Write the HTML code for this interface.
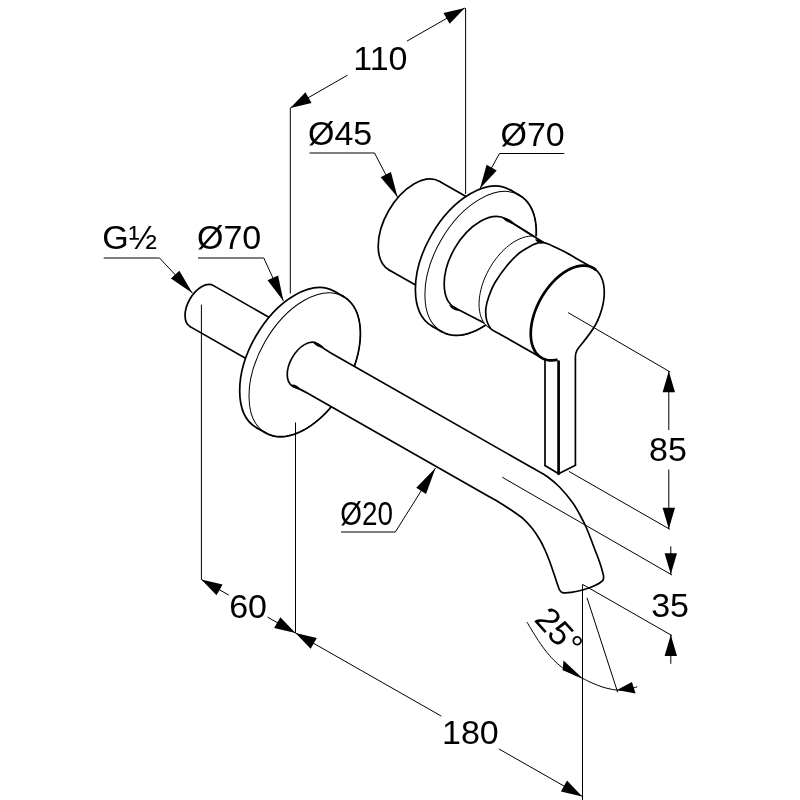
<!DOCTYPE html>
<html lang="en"><head><meta charset="utf-8"><title>Wall-mounted basin mixer – dimension drawing</title>
<style>html,body{margin:0;padding:0;background:#fff;overflow:hidden}svg{display:block;will-change:transform;filter:grayscale(1)}</style></head>
<body>
<svg width="800" height="800" viewBox="0 0 800 800" font-family="'Liberation Sans', Arial, sans-serif" font-size="34" fill="#000">
<ellipse cx="414.4" cy="225.73" rx="51" ry="29.83" transform="rotate(-60.32 414.4 225.73)" fill="#fff" stroke="#000" stroke-width="1.7"/>
<polygon points="439.66,181.43 496.36,213.74 445.84,302.36 389.14,270.04" fill="#fff" stroke="none" stroke-width="0" stroke-linejoin="round"/>
<line x1="439.66" y1="181.43" x2="496.36" y2="213.74" stroke="#000" stroke-width="1.7" stroke-linecap="round"/>
<line x1="389.14" y1="270.04" x2="445.84" y2="302.36" stroke="#000" stroke-width="1.7" stroke-linecap="round"/>
<ellipse cx="471.1" cy="258.05" rx="78.5" ry="45.92" transform="rotate(-60.32 471.1 258.05)" fill="#fff" stroke="#000" stroke-width="1.7"/>
<polygon points="509.97,189.85 519.47,195.27 441.73,331.67 432.23,326.25" fill="#fff" stroke="none" stroke-width="0" stroke-linejoin="round"/>
<ellipse cx="480.6" cy="263.47" rx="78.5" ry="45.92" transform="rotate(-60.32 480.6 263.47)" fill="#fff" stroke="#000" stroke-width="1"/>
<polyline points="517.43,194.22 520.17,195.68 522.72,197.45 525.09,199.52 527.25,201.88 529.2,204.52 530.92,207.43 532.42,210.6 533.68,214.01 534.7,217.64 535.47,221.49 535.99,225.52 536.26,229.73 536.28,234.09 536.04,238.58 535.55,243.19 534.81,247.89 533.82,252.66 532.59,257.48 531.12,262.33 529.42,267.18 527.5,272.02 525.37,276.82 523.03,281.55 520.5,286.21 517.78,290.76 514.9,295.18 511.86,299.47 508.68,303.58 505.37,307.52 501.94,311.25 498.42,314.77 494.82,318.05 491.15,321.08 487.44,323.85 483.69,326.35 479.93,328.55 476.17,330.47 472.44,332.07 468.74,333.37 465.09,334.34 461.52,334.99 458.03,335.32 454.64,335.32 451.38,334.99 448.24,334.33 445.26,333.35 442.43,332.05 439.78,330.44" fill="none" stroke="#000" stroke-width="1.7" stroke-linecap="round" stroke-linejoin="round"/>
<line x1="509.97" y1="189.85" x2="519.47" y2="195.27" stroke="#000" stroke-width="1.7" stroke-linecap="round"/>
<line x1="432.23" y1="326.25" x2="441.73" y2="331.67" stroke="#000" stroke-width="1.7" stroke-linecap="round"/>
<ellipse cx="480.6" cy="263.47" rx="51.3" ry="30.01" transform="rotate(-60.32 480.6 263.47)" fill="#fff" stroke="#000" stroke-width="1.7"/>
<polygon points="506,218.9 547.56,245.01 498.84,330.49 455.2,308.04" fill="#fff" stroke="none" stroke-width="0" stroke-linejoin="round"/>
<line x1="506" y1="218.9" x2="547.56" y2="245.01" stroke="#000" stroke-width="1.7" stroke-linecap="round"/>
<line x1="455.2" y1="308.04" x2="498.84" y2="330.49" stroke="#000" stroke-width="1.7" stroke-linecap="round"/>
<ellipse cx="515.8" cy="283.53" rx="51.8" ry="30.3" transform="rotate(-60.32 515.8 283.53)" fill="#fff" stroke="none" stroke-width="0"/>
<polyline points="532.92,236.12 530.87,236.11 528.77,236.28 526.61,236.64 524.42,237.17 522.19,237.89 519.93,238.77 517.67,239.83 515.39,241.06 513.11,242.45 510.85,244 508.6,245.7 506.39,247.54 504.2,249.52 502.07,251.64 499.98,253.87 497.96,256.22 496,258.67 494.12,261.22 492.33,263.86 490.62,266.57 489.01,269.34 487.51,272.17 486.11,275.05 484.82,277.95 483.66,280.88 482.61,283.82 481.7,286.75 480.92,289.68 480.27,292.58 479.75,295.44 479.38,298.26 479.14,301.03 479.05,303.72 479.09,306.34 479.28,308.87 479.6,311.31 480.07,313.64 480.67,315.85 481.41,317.94 482.28,319.89 483.28,321.71 484.4,323.38 485.64,324.9 487,326.25 488.47,327.45 490.05,328.47 491.72,329.33 493.48,330.01" fill="none" stroke="#000" stroke-width="1" stroke-linecap="butt" stroke-linejoin="round"/>
<line x1="506" y1="218.9" x2="548" y2="245.28" stroke="#000" stroke-width="1.7" stroke-linecap="round"/>
<path d="M593.15,268 L575,257.65 C573.5,256.8 569.17,254.2 566,252.52 C562.83,250.85 558.83,248.97 556,247.6 C553.17,246.23 551.04,245.13 549,244.3 C546.96,243.47 545.58,242.82 543.75,242.6 C541.92,242.38 539.88,242.6 538,243 C536.12,243.4 535.5,243.42 532.5,245 C529.5,246.58 524.17,249.17 520,252.5 C515.83,255.83 511.67,260 507.5,265 C503.33,270 498.08,277.33 495,282.5 C491.92,287.67 490.52,291.75 489,296 C487.48,300.25 486.37,304.33 485.9,308 C485.43,311.67 485.82,315.25 486.2,318 C486.58,320.75 487.32,322.62 488.2,324.5 C489.08,326.38 489.53,327.7 491.5,329.3 C493.47,330.91 498.58,333.34 500,334.15 L541.85,358 Z" fill="#fff" stroke="none" stroke-width="0" stroke-linecap="round" stroke-linejoin="round"/>
<path d="M593.15,268 L575,257.65 C573.5,256.8 569.17,254.2 566,252.52 C562.83,250.85 558.83,248.97 556,247.6 C553.17,246.23 551.04,245.13 549,244.3 C546.96,243.47 545.58,242.82 543.75,242.6 C541.92,242.38 539.88,242.6 538,243 C536.12,243.4 535.5,243.42 532.5,245 C529.5,246.58 524.17,249.17 520,252.5 C515.83,255.83 511.67,260 507.5,265 C503.33,270 498.08,277.33 495,282.5 C491.92,287.67 490.52,291.75 489,296 C487.48,300.25 486.37,304.33 485.9,308 C485.43,311.67 485.82,315.25 486.2,318 C486.58,320.75 487.32,322.62 488.2,324.5 C489.08,326.38 489.53,327.7 491.5,329.3 C493.47,330.91 498.58,333.34 500,334.15 L541.85,358" fill="none" stroke="#000" stroke-width="1.7" stroke-linecap="round" stroke-linejoin="round"/>
<ellipse cx="567.5" cy="313" rx="51.8" ry="30.3" transform="rotate(-60.32 567.5 313)" fill="#fff" stroke="none" stroke-width="0"/>
<polygon points="545,356 545,465.5 558.6,473.8 575.4,465.2 575.4,352 590,332" fill="#fff" stroke="none" stroke-width="0" stroke-linejoin="round"/>
<polyline points="596.12,270.12 594.23,268.66 592.17,267.48 589.96,266.57 587.62,265.95 585.15,265.62 582.57,265.58 579.9,265.83 577.15,266.37 574.35,267.19 571.5,268.3 568.63,269.68 565.75,271.33 562.88,273.23 560.04,275.37 557.25,277.75 554.52,280.34 551.87,283.13 549.31,286.11 546.87,289.25 544.55,292.54 542.38,295.95 540.35,299.47 538.5,303.07 536.82,306.73 535.33,310.42 534.04,314.14 532.95,317.85 532.07,321.52 531.42,325.15 530.98,328.7 530.77,332.16 530.78,335.49 531.02,338.69 531.48,341.73 532.16,344.6 533.06,347.27 534.17,349.73 535.48,351.97 536.99,353.97 538.69,355.71 540.57,357.2 542.61,358.41 544.8,359.35 547.13,360 549.59,360.36 552.15,360.43 554.82,360.21 557.55,359.7" fill="none" stroke="#000" stroke-width="2.7" stroke-linecap="butt" stroke-linejoin="round"/>
<polyline points="593.15,268 593.91,268.45 594.64,268.95 595.35,269.48 596.04,270.05 596.7,270.66 597.34,271.3 597.96,271.97 598.54,272.69 599.1,273.43 599.64,274.21 600.14,275.03 600.62,275.87 601.07,276.75 601.5,277.66 601.89,278.59 602.25,279.56 602.59,280.56 602.89,281.58 603.17,282.63 603.41,283.7 603.62,284.81 603.81,285.93 603.96,287.08 604.08,288.25 604.17,289.44 604.23,290.65 604.25,291.88 604.25,293.13 604.22,294.39 604.15,295.67 604.05,296.97 603.92,298.28 603.76,299.6 603.57,300.93 603.35,302.27 603.1,303.62 602.82,304.98 602.51,306.35 602.16,307.72 601.79,309.1 601.39,310.48 600.96,311.86 600.5,313.25 600.02,314.63 599.51,316.01 598.96,317.39 598.4,318.77 597.8,320.14" fill="none" stroke="#000" stroke-width="1.7" stroke-linecap="round" stroke-linejoin="round"/>
<path d="M597.8,320.14 C594.8,328.14 588,336 582.5,343 C578,348.5 575.4,351 575.4,357 L575.4,465.2" fill="none" stroke="#000" stroke-width="1.7" stroke-linecap="round" stroke-linejoin="round"/>
<line x1="545" y1="360.5" x2="545" y2="465.5" stroke="#000" stroke-width="1.7" stroke-linecap="round"/>
<line x1="558.6" y1="361.5" x2="558.6" y2="473.8" stroke="#000" stroke-width="2.7" stroke-linecap="round"/>
<path d="M545,465.5 L558.6,473.8 L575.4,465.2" fill="none" stroke="#000" stroke-width="1.7" stroke-linecap="round" stroke-linejoin="round"/>
<ellipse cx="201.8" cy="306.13" rx="23.6" ry="13.81" transform="rotate(-60.32 201.8 306.13)" fill="#fff" stroke="#000" stroke-width="1.7"/>
<polygon points="213.49,285.63 307.09,338.98 283.71,379.99 190.11,326.63" fill="#fff" stroke="none" stroke-width="0" stroke-linejoin="round"/>
<line x1="213.49" y1="285.63" x2="307.09" y2="338.98" stroke="#000" stroke-width="1.7" stroke-linecap="round"/>
<line x1="190.11" y1="326.63" x2="283.71" y2="379.99" stroke="#000" stroke-width="1.7" stroke-linecap="round"/>
<ellipse cx="295.4" cy="359.48" rx="78.5" ry="45.92" transform="rotate(-60.32 295.4 359.48)" fill="#fff" stroke="#000" stroke-width="1.7"/>
<polygon points="334.27,291.28 343.57,296.59 265.83,432.98 256.53,427.68" fill="#fff" stroke="none" stroke-width="0" stroke-linejoin="round"/>
<ellipse cx="304.7" cy="364.78" rx="78.5" ry="45.92" transform="rotate(-60.32 304.7 364.78)" fill="#fff" stroke="#000" stroke-width="1"/>
<polyline points="341.53,295.53 344.27,296.99 346.82,298.76 349.19,300.83 351.35,303.2 353.3,305.84 355.02,308.75 356.52,311.92 357.78,315.33 358.8,318.96 359.57,322.8 360.09,326.84 360.36,331.04 360.38,335.4 360.14,339.9 359.65,344.51 358.91,349.21 357.92,353.98 356.69,358.8 355.22,363.65 353.52,368.5 351.6,373.34 349.47,378.13 347.13,382.87 344.6,387.53 341.88,392.08 339,396.5 335.96,400.78 332.78,404.9 329.47,408.83 326.04,412.57 322.52,416.08 318.92,419.37 315.25,422.4 311.54,425.17 307.79,427.66 304.03,429.87 300.27,431.78 296.54,433.39 292.84,434.68 289.19,435.66 285.62,436.31 282.13,436.64 278.74,436.63 275.48,436.3 272.34,435.65 269.36,434.67 266.53,433.37 263.88,431.76" fill="none" stroke="#000" stroke-width="1.7" stroke-linecap="round" stroke-linejoin="round"/>
<line x1="334.27" y1="291.28" x2="343.57" y2="296.59" stroke="#000" stroke-width="1.7" stroke-linecap="round"/>
<line x1="256.53" y1="427.68" x2="265.83" y2="432.98" stroke="#000" stroke-width="1.7" stroke-linecap="round"/>
<ellipse cx="304.7" cy="364.78" rx="24.6" ry="14.39" transform="rotate(-60.32 304.7 364.78)" fill="#fff" stroke="#000" stroke-width="1.7"/>
<path d="M318.29,344.42 Q323.29,348.68 331.29,353.24 L522.5,462.23 C524.58,463.41 530.83,466.94 535,469.35 C539.17,471.76 543.33,473.68 547.5,476.7 C551.67,479.72 555.83,483.2 560,487.5 C564.17,491.8 569.17,497.92 572.5,502.5 C575.83,507.08 577.71,510.83 580,515 C582.29,519.17 584.38,523.33 586.25,527.5 C588.12,531.67 589.79,536.25 591.25,540 C592.71,543.75 593.79,546.83 595,550 C596.21,553.17 597.42,556 598.5,559 C599.58,562 600.65,565.17 601.5,568 C602.35,570.83 603.25,574.67 603.6,576 C603.43,576.77 604.03,579 602.6,580.6 C601.17,582.2 598.18,584.07 595,585.6 C591.82,587.13 587.46,588.67 583.5,589.8 C579.54,590.93 574.75,591.93 571.25,592.4 C567.75,592.87 564.49,593.08 562.5,592.6 C560.51,592.12 559.83,590.02 559.3,589.5 C558.92,588.42 557.97,585.83 557,583 C556.03,580.17 554.75,576.17 553.5,572.5 C552.25,568.83 550.92,564.75 549.5,561 C548.08,557.25 546.58,553.5 545,550 C543.42,546.5 542.08,543.54 540,540 C537.92,536.46 535.42,532.4 532.5,528.75 C529.58,525.1 526.25,521.34 522.5,518.1 C518.75,514.86 513.92,511.94 510,509.3 C506.08,506.66 502.67,504.46 499,502.24 C495.33,500.02 489.83,497.01 488,495.97 L308.1,393.43 Q300.1,388.87 294.1,386.86 Z" fill="#fff" stroke="none" stroke-width="0" stroke-linecap="round" stroke-linejoin="round"/>
<path d="M318.29,344.42 Q323.29,348.68 331.29,353.24 L522.5,462.23 C524.58,463.41 530.83,466.94 535,469.35 C539.17,471.76 543.33,473.68 547.5,476.7 C551.67,479.72 555.83,483.2 560,487.5 C564.17,491.8 569.17,497.92 572.5,502.5 C575.83,507.08 577.71,510.83 580,515 C582.29,519.17 584.38,523.33 586.25,527.5 C588.12,531.67 589.79,536.25 591.25,540 C592.71,543.75 593.79,546.83 595,550 C596.21,553.17 597.42,556 598.5,559 C599.58,562 600.65,565.17 601.5,568 C602.35,570.83 603.25,574.67 603.6,576 C603.43,576.77 604.03,579 602.6,580.6 C601.17,582.2 598.18,584.07 595,585.6 C591.82,587.13 587.46,588.67 583.5,589.8 C579.54,590.93 574.75,591.93 571.25,592.4 C567.75,592.87 564.49,593.08 562.5,592.6 C560.51,592.12 559.83,590.02 559.3,589.5 C558.92,588.42 557.97,585.83 557,583 C556.03,580.17 554.75,576.17 553.5,572.5 C552.25,568.83 550.92,564.75 549.5,561 C548.08,557.25 546.58,553.5 545,550 C543.42,546.5 542.08,543.54 540,540 C537.92,536.46 535.42,532.4 532.5,528.75 C529.58,525.1 526.25,521.34 522.5,518.1 C518.75,514.86 513.92,511.94 510,509.3 C506.08,506.66 502.67,504.46 499,502.24 C495.33,500.02 489.83,497.01 488,495.97 L308.1,393.43 Q300.1,388.87 294.1,386.86" fill="none" stroke="#000" stroke-width="1.7" stroke-linecap="round" stroke-linejoin="round"/>
<path d="M501.5,216.9 Q506.48,223.22 514.5,223.9 Q509.52,217.58 501.5,216.9 Z" fill="#000"/>
<path d="M535,239.4 Q538,244.08 543.5,243.3 Q540.5,238.62 535,239.4 Z" fill="#000"/>
<path d="M449,305.2 Q452.8,310.73 459.5,311 Q455.7,305.47 449,305.2 Z" fill="#000"/>
<path d="M313,342.4 Q317.22,347.71 324,347.6 Q319.78,342.29 313,342.4 Z" fill="#000"/>
<path d="M291.5,384.4 Q294.57,389.48 300.5,389.3 Q297.43,384.22 291.5,384.4 Z" fill="#000"/>
<line x1="568.1" y1="312.6" x2="670.2" y2="372" stroke="#000" stroke-width="1" stroke-linecap="butt"/>
<line x1="568.9" y1="471.4" x2="670" y2="529.4" stroke="#000" stroke-width="1" stroke-linecap="butt"/>
<line x1="502.3" y1="477.3" x2="672" y2="575" stroke="#000" stroke-width="1" stroke-linecap="butt"/>
<line x1="582.6" y1="584.4" x2="672" y2="635.6" stroke="#000" stroke-width="1" stroke-linecap="butt"/>
<line x1="290.3" y1="108" x2="290.3" y2="293.5" stroke="#000" stroke-width="1" stroke-linecap="butt"/>
<line x1="465.6" y1="8" x2="465.6" y2="194" stroke="#000" stroke-width="1" stroke-linecap="butt"/>
<line x1="201.4" y1="304.6" x2="201.4" y2="579.5" stroke="#000" stroke-width="1" stroke-linecap="butt"/>
<line x1="295.5" y1="422.5" x2="295.5" y2="633" stroke="#000" stroke-width="1" stroke-linecap="butt"/>
<line x1="582.5" y1="584.4" x2="582.5" y2="800" stroke="#000" stroke-width="1" stroke-linecap="butt"/>
<line x1="290.3" y1="108" x2="347.5" y2="75.2" stroke="#000" stroke-width="1" stroke-linecap="butt"/>
<line x1="407" y1="41.1" x2="464.8" y2="8" stroke="#000" stroke-width="1" stroke-linecap="butt"/>
<polygon points="290.3,108 305.44,92.18 311.6,102.94" fill="#000" stroke="none" stroke-width="0" stroke-linejoin="round"/>
<polygon points="464.8,8 449.66,23.82 443.5,13.06" fill="#000" stroke="none" stroke-width="0" stroke-linejoin="round"/>
<text x="353.3" y="69.5" >110</text>
<polyline points="309.5,153 374.5,153 397.6,197.2" fill="none" stroke="#000" stroke-width="1"/>
<polygon points="397.6,197.2 380.65,177.29 390.93,171.91" fill="#000" stroke="none" stroke-width="0" stroke-linejoin="round"/>
<text x="308" y="144.8" >Ø45</text>
<polyline points="564.3,153.5 499.5,153.5 480,188.6" fill="none" stroke="#000" stroke-width="1"/>
<polygon points="480,188.6 486.59,164.8 496.73,170.44" fill="#000" stroke="none" stroke-width="0" stroke-linejoin="round"/>
<text x="500.5" y="145.8" >Ø70</text>
<polyline points="103.7,258 159.5,258 192.6,293.2" fill="none" stroke="#000" stroke-width="1"/>
<polygon points="192.6,293.2 170.91,278.6 179.36,270.65" fill="#000" stroke="none" stroke-width="0" stroke-linejoin="round"/>
<text x="102.2" y="249" >G½</text>
<polyline points="198,258 263.8,258 283.4,301" fill="none" stroke="#000" stroke-width="1"/>
<polygon points="283.4,301 267.55,280.2 278.1,275.39" fill="#000" stroke="none" stroke-width="0" stroke-linejoin="round"/>
<text x="197" y="249" >Ø70</text>
<polyline points="341,532 395.3,532 435.5,468" fill="none" stroke="#000" stroke-width="1"/>
<polygon points="435.5,468 426.05,493.95 416.23,487.78" fill="#000" stroke="none" stroke-width="0" stroke-linejoin="round"/>
<text x="0" y="0" transform="translate(340.2 525) scale(0.82 1)">Ø20</text>
<line x1="201.3" y1="579.5" x2="228.8" y2="595.1" stroke="#000" stroke-width="1" stroke-linecap="butt"/>
<line x1="267.5" y1="617.1" x2="295.5" y2="633" stroke="#000" stroke-width="1" stroke-linecap="butt"/>
<polygon points="201.3,579.5 222.62,584.48 216.5,595.26" fill="#000" stroke="none" stroke-width="0" stroke-linejoin="round"/>
<polygon points="295.5,633 274.18,628.02 280.3,617.24" fill="#000" stroke="none" stroke-width="0" stroke-linejoin="round"/>
<text x="229.2" y="618.1" >60</text>
<line x1="295.5" y1="633" x2="441.3" y2="716.1" stroke="#000" stroke-width="1" stroke-linecap="butt"/>
<line x1="498.8" y1="748.9" x2="582.2" y2="796.4" stroke="#000" stroke-width="1" stroke-linecap="butt"/>
<polygon points="295.5,633 316.81,638.01 310.67,648.78" fill="#000" stroke="none" stroke-width="0" stroke-linejoin="round"/>
<polygon points="582.2,796.4 560.89,791.39 567.03,780.62" fill="#000" stroke="none" stroke-width="0" stroke-linejoin="round"/>
<text x="442" y="744" >180</text>
<line x1="668.8" y1="371.3" x2="668.8" y2="430" stroke="#000" stroke-width="1" stroke-linecap="butt"/>
<line x1="668.8" y1="469.5" x2="668.8" y2="528.8" stroke="#000" stroke-width="1" stroke-linecap="butt"/>
<polygon points="668.8,371.3 675,392.3 662.6,392.3" fill="#000" stroke="none" stroke-width="0" stroke-linejoin="round"/>
<polygon points="668.8,528.8 662.6,507.8 675,507.8" fill="#000" stroke="none" stroke-width="0" stroke-linejoin="round"/>
<text x="649" y="461" >85</text>
<line x1="670.8" y1="546.3" x2="670.8" y2="574.3" stroke="#000" stroke-width="1" stroke-linecap="butt"/>
<line x1="670.8" y1="635" x2="670.8" y2="663.8" stroke="#000" stroke-width="1" stroke-linecap="butt"/>
<polygon points="670.8,574.3 664.6,553.3 677,553.3" fill="#000" stroke="none" stroke-width="0" stroke-linejoin="round"/>
<polygon points="670.8,635 677,656 664.6,656" fill="#000" stroke="none" stroke-width="0" stroke-linejoin="round"/>
<text x="651.2" y="616.5" >35</text>
<line x1="587" y1="597.8" x2="617.7" y2="692.3" stroke="#000" stroke-width="1" stroke-linecap="butt"/>
<path d="M527.2,622.5 C528.67,624.92 533.03,632.42 536,637 C538.97,641.58 542.08,646.2 545,650 C547.92,653.8 550.58,656.83 553.5,659.8 C556.42,662.77 559.42,665.48 562.5,667.8 C565.58,670.12 568.65,671.93 572,673.7 C575.35,675.47 579.6,677.02 582.6,678.4 C585.6,679.78 587.1,680.7 590,682 C592.9,683.3 597,685.12 600,686.2 C603,687.28 605.15,687.85 608,688.5 C610.85,689.15 613.93,689.92 617.1,690.1 C620.27,690.28 623.7,690.13 627,689.6 C630.3,689.07 635.25,687.35 636.9,686.9" fill="none" stroke="#000" stroke-width="1" stroke-linecap="round" stroke-linejoin="round"/>
<polygon points="582.6,678.3 563.5,660.6 562.6,670.2" fill="#000" stroke="none" stroke-width="0" stroke-linejoin="round"/>
<polygon points="617,690.1 631.9,681.9 635.6,693.5" fill="#000" stroke="none" stroke-width="0" stroke-linejoin="round"/>
<text x="0" y="0" transform="translate(533.2 620.3) rotate(48)">25°</text>
</svg>
</body></html>
